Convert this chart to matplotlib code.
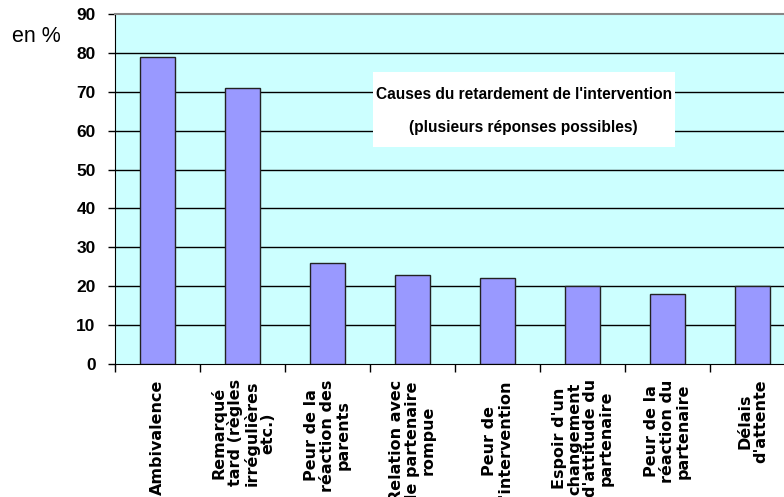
import matplotlib
matplotlib.use('Agg')
import matplotlib.pyplot as plt
from matplotlib.patches import Rectangle

causes = ['Ambivalence',
          'Remarqué\ntard (règles\nirrégulières\netc.)',
          'Peur de la\nréaction des\nparents',
          'Relation avec\nle partenaire\nrompue',
          'Peur de\nl\'intervention',
          'Espoir d\'un\nchangement\nd\'attitude du\npartenaire',
          'Peur de la\nréaction du\npartenaire',
          'Délais\nd\'attente']
pourcent = [79, 71, 26, 23, 22, 20, 18, 20]
yticks = list(range(0, 100, 10))

fig = plt.figure(figsize=(7.84, 4.97), dpi=100)
ax = fig.add_axes([115/784, 133/497, 680/784, 350/497])
ax.set_facecolor('#ccffff')

x = list(range(len(causes)))
ax.bar(x, pourcent, width=0.41, color='#9999ff', edgecolor='#222222',
       linewidth=1.0, zorder=3)

ax.set_xlim(-0.5, len(causes) - 0.5)
ax.set_ylim(0, 90)
ax.set_yticks(yticks)
ax.set_yticklabels([str(v) for v in yticks], fontweight='bold', fontsize=12.5,
                   family='Liberation Sans')
for v in yticks[1:-1]:
    ax.axhline(v, color='black', linewidth=1.0, zorder=1)

# ticks between categories, labels at centres
ax.set_xticks([i - 0.5 for i in range(len(causes) + 1)])
ax.set_xticklabels([])
ax.set_xticks(x, minor=True)
ax.set_xticklabels(causes, minor=True, rotation=90, fontweight='bold',
                   fontsize=11.5, family='DejaVu Sans', ha='center', va='top',
                   multialignment='center', linespacing=1.05)
ax.tick_params(axis='x', which='major', direction='out', length=6, width=1)
ax.tick_params(axis='x', which='minor', length=0, pad=11)
ax.tick_params(axis='y', direction='out', length=5, width=1, pad=9)

ax.spines['top'].set_color('#888888')
ax.spines['top'].set_linewidth(1.5)
ax.spines['right'].set_color('#888888')
ax.spines['left'].set_color('black')
ax.spines['bottom'].set_color('black')

ax.add_patch(Rectangle((0.379, 0.62), 0.444, 0.214, transform=ax.transAxes,
                       facecolor='white', edgecolor='none', zorder=4))
ax.text(0.601, 0.724, "Causes du retardement de l'intervention\n(plusieurs réponses possibles)",
        transform=ax.transAxes, ha='center', va='center', fontsize=11.2,
        fontweight='bold', family='Liberation Sans', linespacing=2.5, zorder=5)

fig.text(12/784, 1 - 36/497, 'en %', fontsize=15.5, family='Liberation Sans',
         ha='left', va='center')

fig.savefig('out.png', dpi=100)
